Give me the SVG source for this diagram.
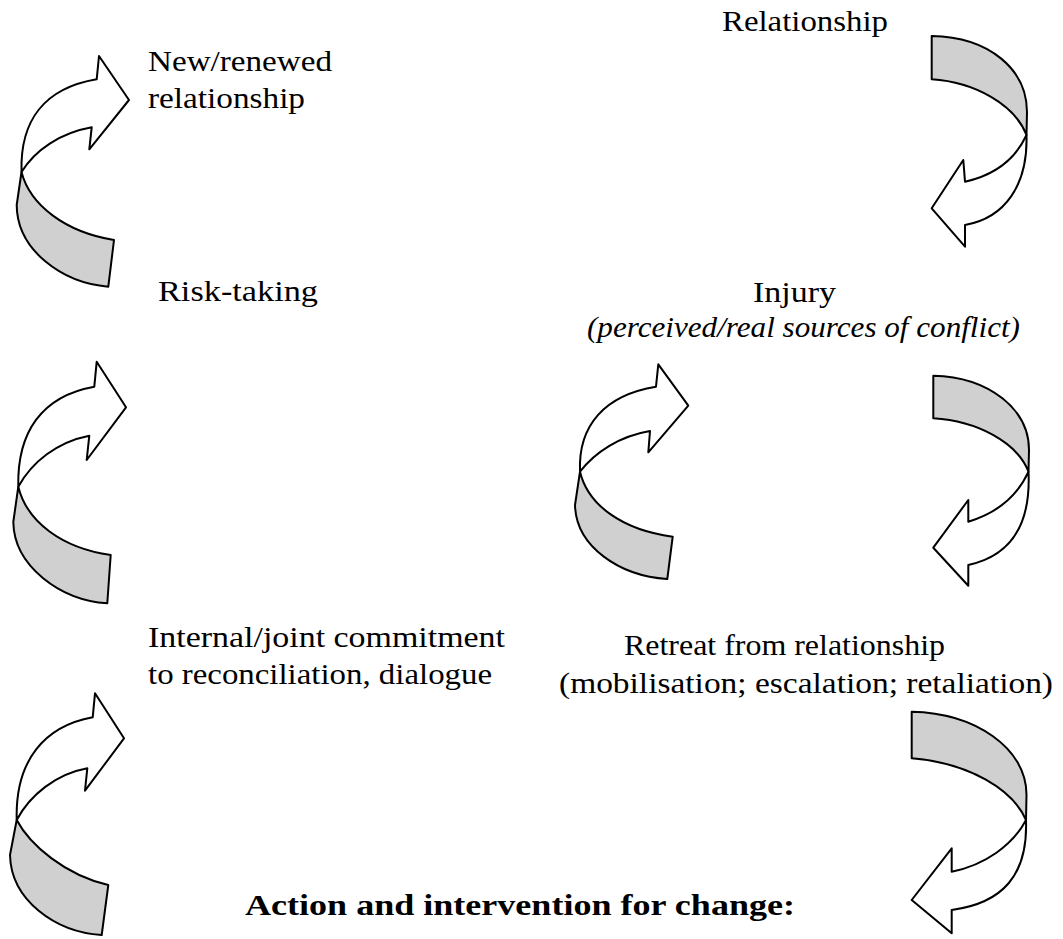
<svg xmlns="http://www.w3.org/2000/svg" width="1063" height="939" viewBox="0 0 1063 939">
  <style>
    .lbl { font-size: 30px; fill: #000; }
    .it { font-style: italic; }
    .bold { font-weight: bold; }
    .front { fill: #ffffff; stroke: #000; stroke-width: 2; stroke-linejoin: round; }
    .back { fill: #d0d0d0; stroke: #000; stroke-width: 2; stroke-linejoin: round; }
  </style>
  <rect x="0" y="0" width="1063" height="939" fill="#ffffff"/>

  <!-- stage labels -->
  <g id="labels" font-family="Liberation Serif, Times New Roman, serif">
    <g id="node-new-relationship">
      <text class="lbl" x="148" y="71" textLength="184" lengthAdjust="spacingAndGlyphs">New/renewed</text>
      <text class="lbl" x="148" y="108" textLength="157" lengthAdjust="spacingAndGlyphs">relationship</text>
    </g>
    <g id="node-relationship">
      <text class="lbl" x="722" y="31" textLength="166" lengthAdjust="spacingAndGlyphs">Relationship</text>
    </g>
    <g id="node-risk-taking">
      <text class="lbl" x="158" y="301" textLength="160" lengthAdjust="spacingAndGlyphs">Risk-taking</text>
    </g>
    <g id="node-injury">
      <text class="lbl" x="753" y="302" textLength="83" lengthAdjust="spacingAndGlyphs">Injury</text>
      <text class="lbl it" x="587" y="337" textLength="433" lengthAdjust="spacingAndGlyphs">(perceived/real sources of conflict)</text>
    </g>
    <g id="node-commitment">
      <text class="lbl" x="148" y="647" textLength="357" lengthAdjust="spacingAndGlyphs">Internal/joint commitment</text>
      <text class="lbl" x="148" y="684" textLength="344" lengthAdjust="spacingAndGlyphs">to reconciliation, dialogue</text>
    </g>
    <g id="node-retreat">
      <text class="lbl" x="624" y="655" textLength="321" lengthAdjust="spacingAndGlyphs">Retreat from relationship</text>
      <text class="lbl" x="559" y="693" textLength="494" lengthAdjust="spacingAndGlyphs">(mobilisation; escalation; retaliation)</text>
    </g>
    <g id="node-action">
      <text class="lbl bold" x="245" y="915" textLength="550" lengthAdjust="spacingAndGlyphs">Action and intervention for change:</text>
    </g>
  </g>

  <!-- curved ribbon arrows linking the stages -->
  <g id="connectors">
    <g id="arrow-left-top">
      <path class="back" d="M21.5,172 C30,205 65,232 114,240 L108.3,286.7 C62,283 17,250 16.7,205 Z"/>
      <path class="front" d="M96.7,79.3 L99,56 L129,100 L89.3,149.3 L91.7,127.3 C60,133 35,150 21.5,172 C20,120 45,88 96.7,79.3 Z"/>
    </g>
    <g id="arrow-left-middle">
      <path class="back" d="M18.3,486.7 C27,522 62,548 110.7,555 L107.3,603.3 C60,600 14,566 13.3,522 Z"/>
      <path class="front" d="M94.3,386.7 L96.7,361.7 L126,407.3 L86.7,460 L89.3,435.7 C57,442 32,462 18.3,486.7 C17,432 42,396 94.3,386.7 Z"/>
    </g>
    <g id="arrow-left-bottom">
      <path class="back" d="M16.7,820 C30,845 65,875 108.3,885 L101.7,935 C55,932 11,900 10,855 Z"/>
      <path class="front" d="M92.7,717.3 L95,693.3 L124,738.3 L85,790.7 L87.3,768.3 C56,774 30,795 16.7,820 C15,760 45,726 92.7,717.3 Z"/>
    </g>
    <g id="arrow-centre">
      <path class="back" d="M580,471.7 C588,505 622,530 672.7,536.7 L667.3,579 C620,576 576,547 575,505 Z"/>
      <path class="front" d="M656,386.7 L658.3,364.3 L688.3,405.7 L648.3,452.3 L650,431 C620,436 595,452 580,471.7 C578,425 605,395 656,386.7 Z"/>
    </g>
    <g id="arrow-right-top">
      <path class="back" d="M931.7,36 C990,37 1027,70 1027,112 L1026.5,135 C1015,105 975,82 931.7,79.3 Z"/>
      <path class="front" d="M1026.5,135 C1015,160 995,175 965,181.7 L963.3,160 L931.7,208.3 L965,246.7 L965,225 C1005,218 1028,185 1026.5,135 Z"/>
    </g>
    <g id="arrow-right-middle">
      <path class="back" d="M933.3,375.7 C990,377 1029,410 1029,450 L1028.5,471.7 C1017,442 977,421 933.3,418.3 Z"/>
      <path class="front" d="M1028.5,471.7 C1017,497 997,513 968.3,521.7 L968.3,500 L933.3,547.7 L968.3,585.7 L968.3,565 C1010,556 1031,525 1028.5,471.7 Z"/>
    </g>
    <g id="arrow-right-bottom">
      <path class="back" d="M911.7,711.7 C975,713 1026.7,748 1026.5,795 L1026,820 C1013,790 970,763 911.7,758.3 Z"/>
      <path class="front" d="M1026,820 C1013,845 985,865 951.7,871.7 L951.7,848.3 L911.7,900 L951.7,933.3 L951.7,910 C1003,903 1028,875 1026,820 Z"/>
    </g>
  </g>
</svg>
